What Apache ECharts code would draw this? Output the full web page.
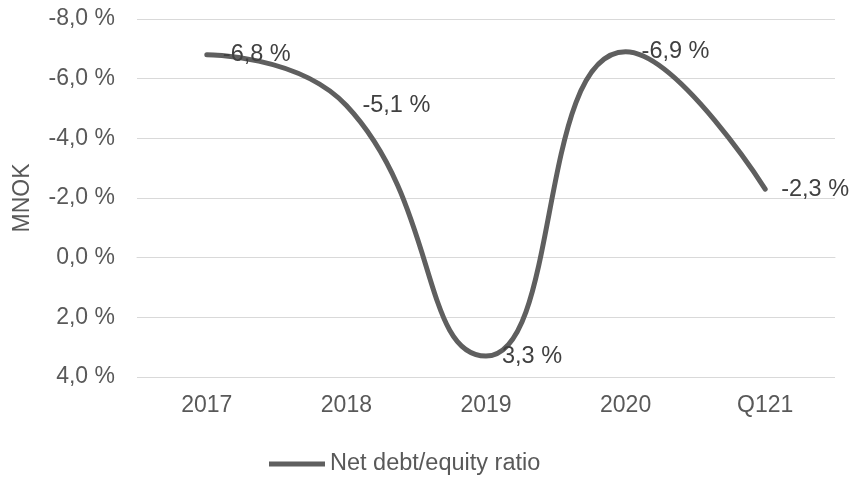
<!DOCTYPE html>
<html><head><meta charset="utf-8">
<script src="https://cdn.jsdelivr.net/npm/echarts@6/dist/echarts.min.js"></script>
<style>html,body{margin:0;padding:0;background:#fff}#c{width:857px;height:480px}</style>
</head><body><div id="c"></div>
<script>
var categories = ['2017', '2018', '2019', '2020', 'Q121'];
var ratioValues = [-6.8, -5.1, 3.3, -6.9, -2.3];
var seriesName = 'Net debt/equity ratio';
var yAxisName = 'MNOK';

function fmt(v) {
  var s = Math.abs(v) < 1e-9 ? '0,0' : Number(v).toFixed(1).replace('.', ',');
  return s + ' %';
}
var FONT = 'Liberation Sans';
var TXT = '#595959';
var chart = echarts.init(document.getElementById('c'), null, {renderer: 'canvas'});
chart.setOption({
  animation: false,
  backgroundColor: '#ffffff',
  grid: {left: 137, right: 22, top: 19, bottom: 103},
  legend: {
    data: [seriesName],
    left: 269, top: 452, padding: 0,
    icon: 'rect', itemWidth: 56, itemHeight: 5, itemGap: 5,
    textStyle: {fontFamily: FONT, fontSize: 23.5, color: TXT, padding: [0, 0, 7, 0]}
  },
  xAxis: {
    type: 'category', data: categories, boundaryGap: true,
    axisLine: {show: true, lineStyle: {color: '#d9d9d9', width: 1}},
    axisTick: {show: false},
    axisLabel: {color: TXT, fontFamily: FONT, fontSize: 23, margin: 17}
  },
  yAxis: {
    type: 'value', inverse: true, min: -8, max: 4, interval: 2,
    name: yAxisName, nameLocation: 'middle', nameGap: 103, nameRotate: 90,
    nameTextStyle: {color: TXT, fontFamily: FONT, fontSize: 23},
    axisLine: {show: false}, axisTick: {show: false},
    splitLine: {lineStyle: {color: '#d9d9d9', width: 1}},
    axisLabel: {color: TXT, fontFamily: FONT, fontSize: 23, margin: 22, formatter: fmt}
  },
  series: [{
    name: seriesName, type: 'line', data: ratioValues,
    smooth: 0.5, showSymbol: true, symbol: 'circle', symbolSize: 2,
    lineStyle: {color: '#5f5f5f', width: 5, cap: 'round'},
    itemStyle: {color: '#5f5f5f'},
    label: {show: true, position: 'right', distance: 15,
      color: '#404040', fontFamily: FONT, fontSize: 23.5,
      formatter: function (p) { return fmt(p.value); }}
  }]
});
</script></body></html>
